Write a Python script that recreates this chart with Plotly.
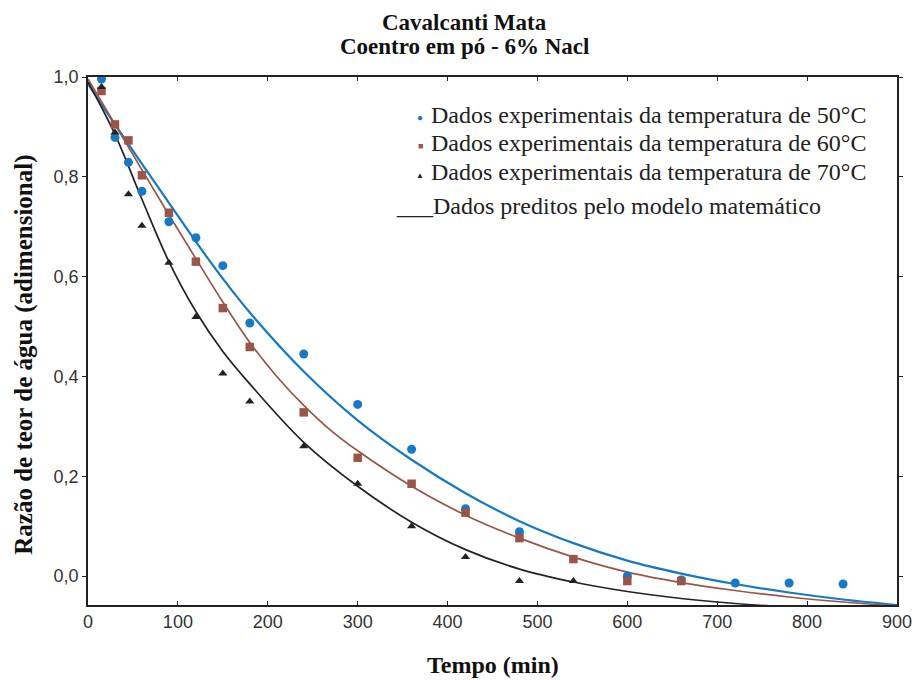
import plotly.graph_objects as go

# Experimental drying data: moisture ratio vs time (min)
t_50 = [15, 30, 45, 60, 90, 120, 150, 180, 240, 300, 360, 420, 480, 600, 660, 720, 780, 840]
mr_50 = [0.996, 0.879, 0.829, 0.771, 0.710, 0.678, 0.622, 0.507, 0.445, 0.344, 0.254, 0.135, 0.089,
         0.000, -0.008, -0.014, -0.014, -0.016]

t_60 = [15, 30, 45, 60, 90, 120, 150, 180, 240, 300, 360, 420, 480, 540, 600, 660]
mr_60 = [0.972, 0.905, 0.873, 0.803, 0.728, 0.630, 0.537, 0.459, 0.328, 0.237, 0.185, 0.127, 0.076,
         0.034, -0.010, -0.010]

t_70 = [15, 30, 45, 60, 90, 120, 150, 180, 240, 300, 360, 420, 480, 540]
mr_70 = [0.980, 0.889, 0.765, 0.702, 0.628, 0.519, 0.406, 0.350, 0.260, 0.185, 0.100, 0.038, -0.010, -0.010]

# Model-predicted curves (sampled)
tm_50 = [0, 30, 60, 90, 120, 150, 180, 240, 300, 360, 420, 480, 540, 600, 660, 720, 780, 840, 900]
pm_50 = [0.986, 0.905, 0.826, 0.748, 0.670, 0.596, 0.528, 0.410, 0.312, 0.233, 0.166, 0.110, 0.066,
         0.031, 0.005, -0.016, -0.033, -0.047, -0.058]

tm_60 = [0, 30, 60, 90, 120, 150, 180, 210, 240, 270, 300, 360, 420, 480, 540, 600, 660, 720, 780, 840, 900]
pm_60 = [0.996, 0.905, 0.814, 0.724, 0.636, 0.549, 0.468, 0.400, 0.342, 0.292, 0.251, 0.180, 0.122,
         0.076, 0.038, 0.008, -0.013, -0.029, -0.042, -0.052, -0.060]

tm_70 = [0, 30, 60, 90, 120, 150, 180, 240, 300, 360, 420, 480, 540, 600, 660, 720, 780]
pm_70 = [0.990, 0.885, 0.755, 0.630, 0.530, 0.450, 0.385, 0.268, 0.180, 0.108, 0.053, 0.014, -0.012,
         -0.031, -0.045, -0.055, -0.062]

x_ticks = [0, 100, 200, 300, 400, 500, 600, 700, 800, 900]
y_ticks = [0.0, 0.2, 0.4, 0.6, 0.8, 1.0]
y_labels = ["0,0", "0,2", "0,4", "0,6", "0,8", "1,0"]

BLUE = "#1679c8"
BROWN = "#9a5546"
BLACK = "#222222"

fig = go.Figure()

for tm, pm, col, w in [(tm_50, pm_50, BLUE, 2.2), (tm_60, pm_60, BROWN, 1.7), (tm_70, pm_70, BLACK, 1.7)]:
    fig.add_trace(go.Scatter(x=tm, y=pm, mode="lines", line=dict(color=col, width=w, shape="spline"),
                             showlegend=False, hoverinfo="skip"))

fig.add_trace(go.Scatter(x=t_50, y=mr_50, mode="markers",
                         marker=dict(symbol="circle", size=9, color=BLUE), showlegend=False))
fig.add_trace(go.Scatter(x=t_60, y=mr_60, mode="markers",
                         marker=dict(symbol="square", size=8.5, color=BROWN), showlegend=False))
fig.add_trace(go.Scatter(x=t_70, y=mr_70, mode="markers",
                         marker=dict(symbol="triangle-up", size=8, color=BLACK), showlegend=False))

serif = "Liberation Serif, Times New Roman, serif"
sans = "Liberation Sans, Arial, sans-serif"


def px_x(p):
    return (p - 88) / 818


def px_y(p):
    return (605 - p) / 528


annotations = [
    dict(text="<b>Cavalcanti Mata</b>", x=px_x(469), y=px_y(23), font=dict(family=serif, size=23, color="#111")),
    dict(text="<b>Coentro em pó - 6% Nacl</b>", x=px_x(469), y=px_y(47), font=dict(family=serif, size=23, color="#111")),
    dict(text="<b>Tempo (min)</b>", x=px_x(497), y=px_y(665), font=dict(family=serif, size=24, color="#111")),
    dict(text="<b>Razão de teor de água (adimensional)</b>", x=px_x(23), y=px_y(355), textangle=-90,
         font=dict(family=serif, size=25, color="#111")),
]

# Legend drawn as symbol + caption rows
legend_rows = [
    ("●", BLUE, 10, "Dados experimentais da temperatura de 50°C", 115),
    ("■", BROWN, 9, "Dados experimentais da temperatura de 60°C", 143),
    ("▲", BLACK, 8, "Dados experimentais da temperatura de 70°C", 172),
]
for sym, col, sz, txt, yp in legend_rows:
    annotations.append(dict(text=sym, x=px_x(424), y=px_y(yp + 2), font=dict(size=sz, color=col)))
    annotations.append(dict(text=txt, x=px_x(433), y=px_y(yp), xanchor="left",
                            font=dict(family=serif, size=24, color="#222")))
annotations.append(dict(text="___Dados preditos pelo modelo matemático", x=px_x(397), y=px_y(206),
                        xanchor="left", font=dict(family=serif, size=24, color="#222")))

for a in annotations:
    a.setdefault("xref", "paper")
    a.setdefault("yref", "paper")
    a.setdefault("showarrow", False)
    a.setdefault("xanchor", "center")
    a.setdefault("yanchor", "middle")

fig.update_layout(
    width=924, height=680,
    margin=dict(l=88, r=18, t=77, b=75),
    paper_bgcolor="white", plot_bgcolor="white",
    annotations=annotations,
    showlegend=False,
)

fig.update_xaxes(range=[0, 900], tickvals=x_ticks, ticktext=[str(v) for v in x_ticks],
                 showgrid=False, zeroline=False, showline=True, linecolor="#222", linewidth=1.5,
                 mirror="ticks", ticks="inside", ticklen=4, tickcolor="#222",
                 tickfont=dict(family=sans, size=18, color="#333"))
fig.update_yaxes(range=[-0.058, 1.0], tickvals=y_ticks, ticktext=y_labels,
                 showgrid=False, zeroline=False, showline=True, linecolor="#222", linewidth=1.5,
                 mirror="ticks", ticks="outside", ticklen=4, tickcolor="#222",
                 tickfont=dict(family=sans, size=18, color="#333"))

fig.write_html("out.html")
